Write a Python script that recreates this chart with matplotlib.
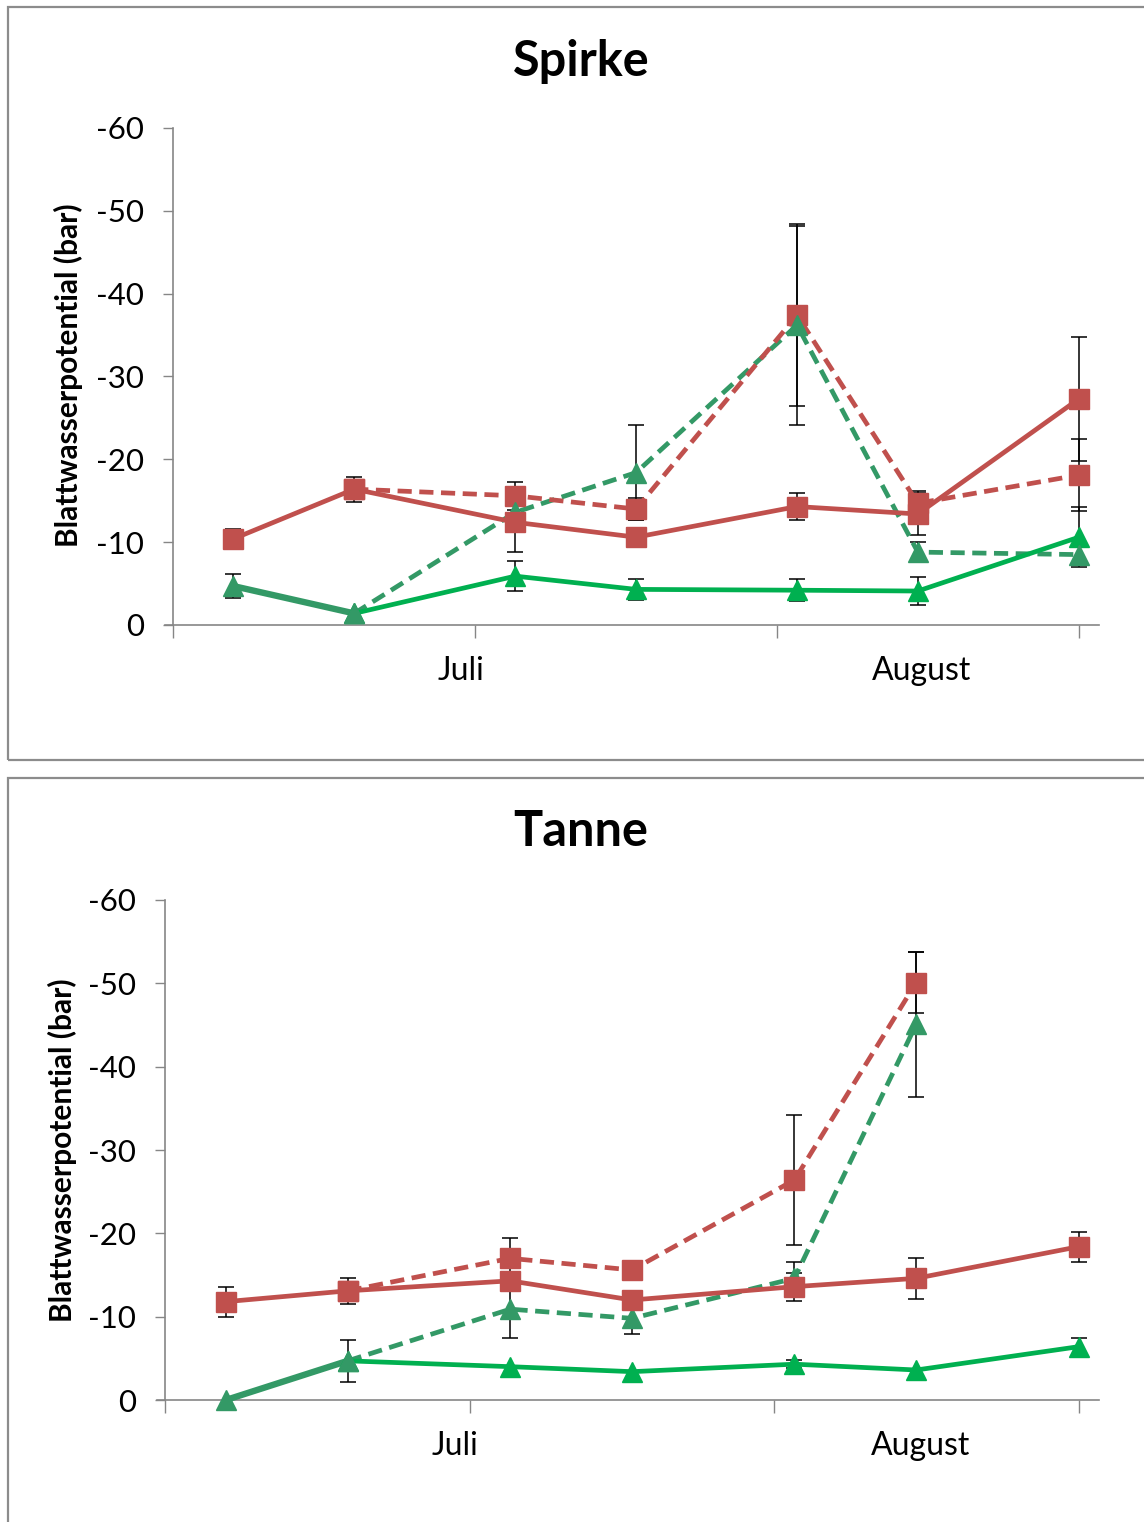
import numpy as np
import matplotlib
matplotlib.use("Agg")
import matplotlib.pyplot as plt
from matplotlib.patches import Rectangle

plt.rcParams['font.family'] = ['Lato', 'DejaVu Sans']

# ---- data (day index within the period; month labels) ----
days = [3, 9, 17, 23, 31, 37, 45]
month_labels = ["Juli", "August"]
month_label_pos = [14.3, 37.2]
yticks = [0, -10, -20, -30, -40, -50, -60]

# Spirke
sp_red_solid = [-10.4, -16.4, -12.4, -10.6, -14.3, -13.4, -27.3]
sp_red_solid_err = [1.2, 1.5, 3.6, 0.0, 1.6, 2.5, 7.5]
sp_red_dash = [np.nan, -16.4, -15.6, -14.0, -37.4, -14.7, -18.1]
sp_red_dash_err = [0.0, 0.0, 1.7, 1.3, 11.0, 1.5, 4.3]
sp_teal = [-4.7, -1.4, -13.6, -18.4, -36.2, -8.8, -8.5]
sp_teal_err = [1.5, 0.0, 0.0, 5.7, 12.0, 1.2, 1.0]
sp_green = [np.nan, -1.4, -5.9, -4.3, -4.2, -4.1, -10.6]
sp_green_err = [0.0, 0.0, 1.8, 1.3, 1.3, 1.7, 3.6]

# Tanne
ta_red_solid = [-11.8, -13.1, -14.3, -12.0, -13.6, -14.6, -18.4]
ta_red_solid_err = [1.8, 1.6, 0.0, 0.0, 1.7, 2.5, 1.8]
ta_red_dash = [np.nan, -13.1, -17.0, -15.6, -26.4, -50.1, np.nan]
ta_red_dash_err = [0.0, 0.0, 2.5, 0.0, 7.8, 3.7, 0.0]
ta_teal = [0.0, -4.7, -10.9, -9.8, -14.6, -45.1, np.nan]
ta_teal_err = [0.0, 2.5, 3.5, 1.9, 2.0, 8.7, 0.0]
ta_green = [np.nan, -4.7, -4.0, -3.4, -4.3, -3.6, -6.4]
ta_green_err = [0.0, 0.0, 0.0, 0.0, 0.5, 0.0, 1.1]

RED = "#C0504D"
TEAL = "#339966"
GREEN = "#00B050"
AXC = "#868686"

W, H = 1144, 1522
fig = plt.figure(figsize=(W / 100, H / 100), dpi=100)


def px_axes(l, t, r, b):
    return fig.add_axes([l / W, 1 - b / H, (r - l) / W, (b - t) / H])


def draw_panel(ax, title, title_xy, rs, rse, rd, rde, te, tee, gr, gre):
    x = np.array(days, dtype=float)
    lw = 3.4
    ms_sq = 14
    ms_tr = 15
    dash = (3.0, 1.6)

    def ebar(y, e):
        y = np.array(y, float)
        e = np.array(e, float)
        m = (~np.isnan(y)) & (e > 0)
        ax.errorbar(x[m], y[m], yerr=e[m], fmt='none', ecolor='black',
                    elinewidth=1.1, capsize=6, capthick=1.1, zorder=2)

    for y, e in [(rs, rse), (rd, rde), (te, tee), (gr, gre)]:
        ebar(y, e)

    te = np.array(te, float)
    gr = np.array(gr, float)
    rd = np.array(rd, float)
    rs = np.array(rs, float)

    # teal: first segment solid, rest dashed
    ax.plot(x[:2], te[:2], color=TEAL, lw=lw + 1.2, solid_capstyle='round', zorder=3)
    ax.plot(x[1:], te[1:], color=TEAL, lw=lw, dashes=dash, zorder=3)
    # red dashed
    ax.plot(x, rd, color=RED, lw=lw, dashes=dash, zorder=3)
    ax.plot(x, rd, ls='none', marker='s', ms=ms_sq, color=RED, zorder=5)
    # bright green solid
    ax.plot(x, gr, color=GREEN, lw=lw, zorder=4, solid_joinstyle='round')
    ax.plot(x, gr, ls='none', marker='^', ms=ms_tr, color=GREEN, zorder=5)
    ax.plot(x, te, ls='none', marker='^', ms=ms_tr, color=TEAL, zorder=6)
    # red solid
    ax.plot(x, rs, color=RED, lw=lw, zorder=4, solid_joinstyle='round')
    ax.plot(x, rs, ls='none', marker='s', ms=ms_sq, color=RED, zorder=6)

    ax.set_xlim(0, 46)
    ax.set_ylim(0, -60)
    ax.set_yticks(yticks)
    ax.set_yticklabels([str(v) for v in yticks], fontsize=22.5)
    ax.set_xticks([0, 15, 30, 45])
    ax.set_xticklabels([])
    ax.set_xticks(month_label_pos, labels=month_labels, minor=True)
    ax.tick_params(axis='x', which='minor', length=0, pad=22, labelsize=23)
    ax.tick_params(axis='x', which='major', length=9, width=1, color=AXC, direction='out')
    ax.tick_params(axis='y', length=7, width=1, color=AXC, direction='out', pad=14)
    for s in ['top', 'right']:
        ax.spines[s].set_visible(False)
    for s in ['left', 'bottom']:
        ax.spines[s].set_color(AXC)
        ax.spines[s].set_linewidth(1.2)
    ax.spines['bottom'].set_bounds(-0.4, 46)
    for a in ax.lines:
        a.set_clip_on(False)
    for c in ax.collections:
        c.set_clip_on(False)

    fig.text(title_xy[0] / W, 1 - title_xy[1] / H, title, fontsize=35,
             fontweight='bold', ha='center', va='center')
    return ax


# frames
fig.patches.append(Rectangle((8 / W, 1 - 760 / H), 1.0, (760 - 7) / H,
                             transform=fig.transFigure, fill=False,
                             edgecolor="#8c8c8c", lw=1.6))
fig.patches.append(Rectangle((8 / W, 1 - 1540 / H), 1.0, (1540 - 778) / H,
                             transform=fig.transFigure, fill=False,
                             edgecolor="#8c8c8c", lw=1.6))

ax1 = px_axes(173, 128, 1099, 625)
draw_panel(ax1, "Spirke", (581, 62), sp_red_solid, sp_red_solid_err,
           sp_red_dash, sp_red_dash_err, sp_teal, sp_teal_err, sp_green, sp_green_err)
fig.text(68 / W, 1 - 375 / H, "Blattwasserpotential (bar)", rotation=90,
         fontsize=21.5, fontweight='bold', ha='center', va='center')

ax2 = px_axes(165, 900, 1099, 1400)
draw_panel(ax2, "Tanne", (581, 832), ta_red_solid, ta_red_solid_err,
           ta_red_dash, ta_red_dash_err, ta_teal, ta_teal_err, ta_green, ta_green_err)
fig.text(62 / W, 1 - 1150 / H, "Blattwasserpotential (bar)", rotation=90,
         fontsize=21.5, fontweight='bold', ha='center', va='center')

fig.savefig("out.png", dpi=100)
